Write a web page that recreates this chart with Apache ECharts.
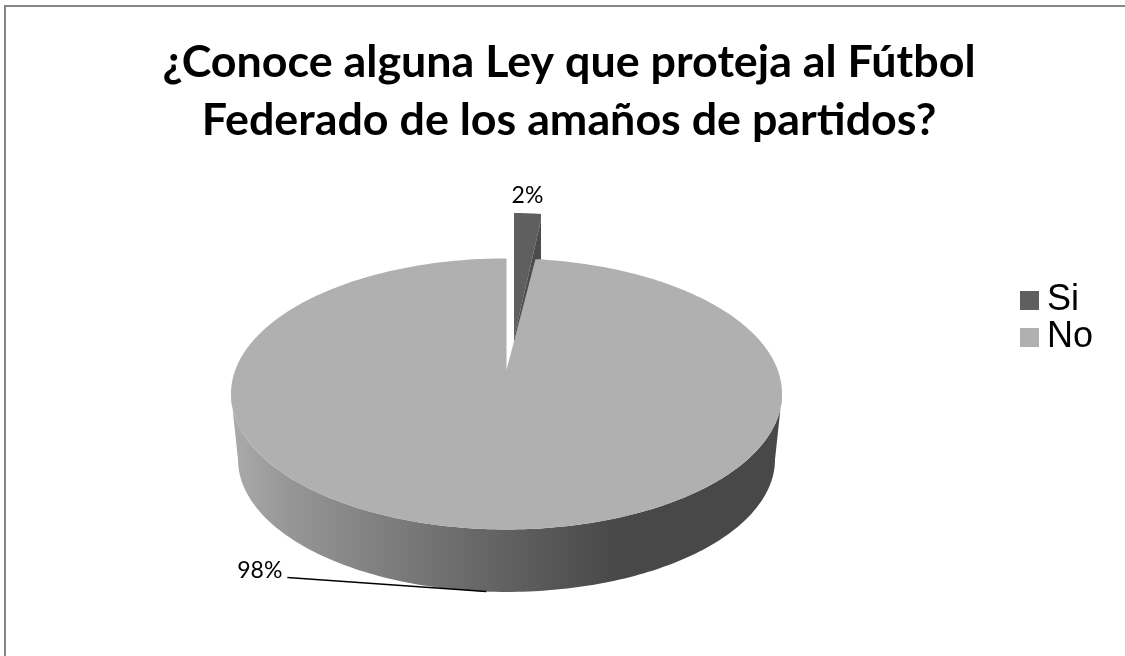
<!DOCTYPE html>
<html>
<head>
<meta charset="utf-8">
<title>Ley Fútbol Federado</title>
<script src="https://cdn.jsdelivr.net/npm/echarts@6/dist/echarts.min.js"></script>
<style>html,body{margin:0;padding:0;background:#fff}#c{width:1125px;height:656px}</style>
</head>
<body>
<div id="c"></div>
<script>
const titleLines = ['¿Conoce alguna Ley que proteja al Fútbol', 'Federado de los amaños de partidos?'];
const categories = ['Si', 'No'];
const values = [2, 98];
const sliceColors = ['#5f5f5f', '#b0b0b0'];
const cutFaceColor = '#4c4c4c';
const rimStops = [[0, '#ababab'], [0.1, '#979797'], [0.45, '#676767'], [0.7, '#484848'], [1, '#484848']];

// Perspective of the tilted disc, one entry per slice (Si is pulled out of the pie).
const persp = 0.1765;
const discs = [
  { x: 514, y: 338, R: 253, k: 147 },
  { x: 506.5, y: 370, R: 271.2, k: 131.3 }
];
const rimBase = { y: 436, R: 264.3, k: 128.4 };
const cutDrop = 6, cutDepth = 62;

const total = values.reduce((a, b) => a + b, 0);
const spans = [];
values.reduce((acc, v) => { const end = acc + v / total * 360; spans.push([acc, end]); return end; }, 0);
const rad = d => d * Math.PI / 180;
function project(d, deg) {
  const u = Math.sin(rad(deg)), v = Math.cos(rad(deg)), w = 1 + persp * v;
  return [d.x + d.R * u / w, d.y - d.k * v / w];
}
function arc(d, a, b) {
  const pts = [], n = Math.max(2, Math.ceil(Math.abs(b - a) / 1));
  for (let i = 0; i <= n; i++) pts.push(project(d, a + (b - a) * i / n));
  return pts;
}
function labelText(i) { return Math.round(values[i] / total * 100) + '%'; }
const labelStyle = { fontFamily: 'Lato, "Noto Sans", sans-serif', fontSize: 23, fill: '#000' };

function renderSi(params, api) {
  const i = api.value(0), d = discs[i], [a, b] = spans[i], mid = (a + b) / 2;
  const rim = arc(d, a, b), end = rim[rim.length - 1], apex = [d.x, d.y];
  const low = [end[0], end[1] + cutDrop];
  const top = project(d, mid);
  return { type: 'group', children: [
    { type: 'polygon', shape: { points: [apex, ...rim, low] }, style: { fill: sliceColors[i] } },
    { type: 'polygon', shape: { points: [apex, low, [end[0], end[1] + cutDepth], [apex[0], apex[1] + cutDepth]] }, style: { fill: cutFaceColor } },
    { type: 'text', style: Object.assign({ x: top[0], y: top[1] - 18, text: labelText(i), align: 'center', verticalAlign: 'middle' }, labelStyle) }
  ] };
}
function renderNo(params, api) {
  const i = api.value(0), d = discs[i], [a, b] = spans[i], mid = (a + b) / 2;
  const base = { x: d.x, y: rimBase.y, R: rimBase.R, k: rimBase.k };
  const t1 = Math.acos(-persp) * 180 / Math.PI, t2 = 360 - t1;
  const side = [...arc(d, t1, t2), ...arc(base, t2, t1)];
  const anchor = project(base, mid);
  const tail = [anchor[0] - 199, anchor[1] - 14];
  return { type: 'group', children: [
    { type: 'polygon', shape: { points: side }, style: {
      fill: new echarts.graphic.LinearGradient(0, 0, 1, 0, rimStops.map(s => ({ offset: s[0], color: s[1] }))) } },
    { type: 'polygon', shape: { points: [[d.x, d.y], ...arc(d, a, b)] }, style: { fill: sliceColors[i] } },
    { type: 'polyline', shape: { points: [anchor, tail] }, style: { stroke: '#000', lineWidth: 1.6, fill: 'none' } },
    { type: 'text', style: Object.assign({ x: tail[0] - 5, y: tail[1] - 7, text: labelText(i), align: 'right', verticalAlign: 'middle' }, labelStyle) }
  ] };
}

const chart = echarts.init(document.getElementById('c'), null, { renderer: 'canvas' });
chart.setOption({
  animation: false,
  backgroundColor: '#fff',
  title: {
    text: titleLines.join('\n'),
    left: 564, top: 29, textAlign: 'center',
    textStyle: { fontFamily: 'Lato, "Noto Sans", sans-serif', fontWeight: 'bold', fontSize: 44.8, lineHeight: 58, color: '#000' }
  },
  legend: {
    data: categories, orient: 'vertical', left: 1020, top: 282, padding: 0, itemGap: 0,
    itemWidth: 19, itemHeight: 19, icon: 'rect',
    textStyle: { fontFamily: '"Liberation Sans", Arial, sans-serif', fontSize: 36, lineHeight: 37, color: '#000', padding: [0, 0, 0, 3] }
  },
  graphic: [
    { type: 'polyline', silent: true, shape: { points: [[5, 656], [5, 6], [1125, 6]] }, style: { stroke: '#868686', lineWidth: 2, fill: 'none' } }
  ],
  series: [
    { type: 'custom', name: categories[0], coordinateSystem: 'none', silent: true, itemStyle: { color: sliceColors[0] }, data: [[0, values[0]]], renderItem: renderSi },
    { type: 'custom', name: categories[1], coordinateSystem: 'none', silent: true, itemStyle: { color: sliceColors[1] }, data: [[1, values[1]]], renderItem: renderNo }
  ]
});
</script>
</body>
</html>
